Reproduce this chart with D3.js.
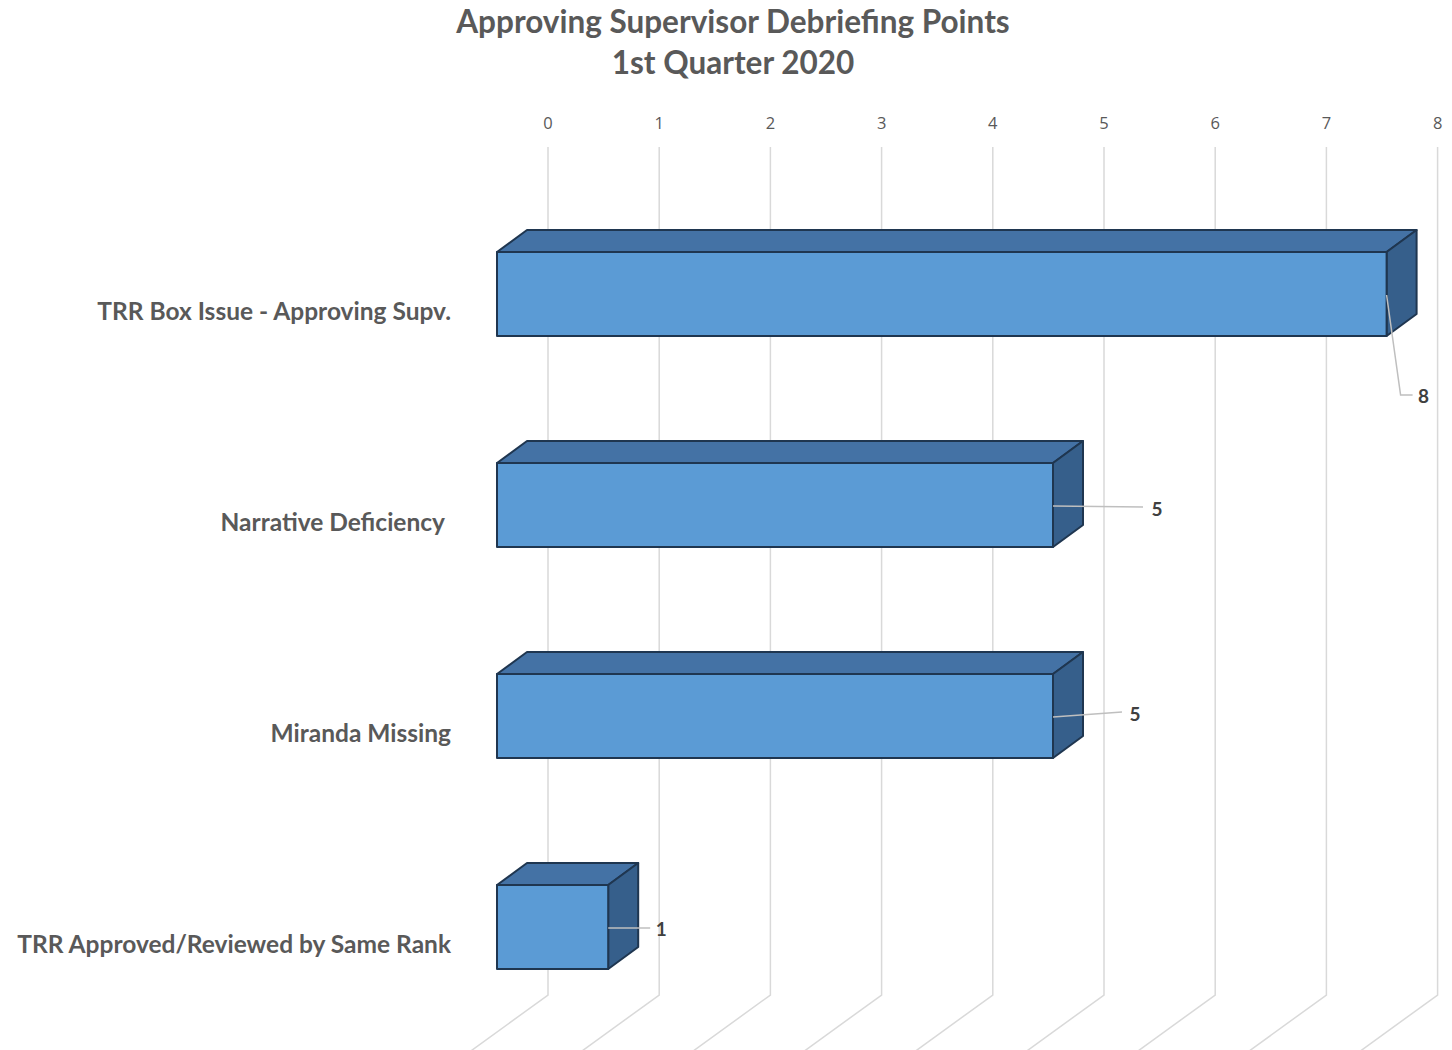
<!DOCTYPE html>
<html><head><meta charset="utf-8">
<script src="https://cdn.jsdelivr.net/npm/d3@7"></script>
<style>html,body{margin:0;padding:0;background:#fff;}svg{display:block;}</style>
</head><body>
<svg id="chart" width="1452" height="1050"></svg>
<script>
const categories = ["TRR Box Issue - Approving Supv.", "Narrative Deficiency", "Miranda Missing", "TRR Approved/Reviewed by Same Rank"];
const values = [8, 5, 5, 1];
const tickValues = [0, 1, 2, 3, 4, 5, 6, 7, 8];
const titleLines = ["Approving Supervisor Debriefing Points", "1st Quarter 2020"];

const svg = d3.select("#chart");
const W = 1452, H = 1050;
svg.append("rect").attr("width", W).attr("height", H).attr("fill", "#fff");

const x = d3.scaleLinear().domain([0, 8]).range([497, 1386.6]);
const y = d3.scaleBand().domain(categories).range([188.5, 1032.5]).paddingInner(0.602).paddingOuter(0.301);

// 3D offsets
const barD = {dx: 30, dy: -22};
const wallD = {dx: 51, dy: -37};
const gridTop = 147, wallBottom = 995;

// Title
const title = svg.append("g").attr("font-family", "Lato, 'Open Sans', sans-serif").attr("font-weight", "bold").attr("fill", "#595959").attr("text-anchor", "middle");
titleLines.forEach((t, i) => {
  title.append("text").attr("x", 733).attr("y", 33 + i * 41).attr("font-size", 31.5).text(t);
});

// Gridlines (back wall vertical + floor diagonal)
const grid = svg.append("g").attr("fill", "none").attr("stroke", "#d9d9d9").attr("stroke-width", 1.5);
tickValues.forEach(v => {
  const xb = x(v) + wallD.dx;
  const ext = 1.55; // extend beyond front plane
  grid.append("path").attr("d", d3.line()([[xb, gridTop], [xb, wallBottom], [xb - wallD.dx * ext, wallBottom - wallD.dy * ext]]));
});

// Tick labels along top (back plane)
svg.append("g").attr("font-family", "'Open Sans', sans-serif").attr("font-size", 16.5).attr("fill", "#595959").attr("text-anchor", "middle")
  .selectAll("text").data(tickValues).join("text")
  .attr("x", d => x(d) + wallD.dx).attr("y", 129).text(d => d);

// Category labels
svg.append("g").attr("font-family", "Lato, 'Open Sans', sans-serif").attr("font-weight", "bold").attr("font-size", 24.5).attr("fill", "#595959").attr("text-anchor", "end")
  .selectAll("text").data(categories).join("text")
  .attr("x", (d, i) => i === 1 ? 445 : 451).attr("y", d => y(d) + y.bandwidth() / 2 + 17.5).attr("dy", "0.35em").text(d => d);

// Bars
const bars = svg.append("g").attr("stroke", "#1f3650").attr("stroke-width", 2).attr("stroke-linejoin", "round");
categories.forEach((c, i) => {
  const x0 = x(0), x1 = x(values[i]);
  const y0 = y(c), y1 = y(c) + y.bandwidth();
  const g = bars.append("g");
  g.append("path").attr("fill", "#4472a5").attr("d", d3.line()([[x0, y0], [x0 + barD.dx, y0 + barD.dy], [x1 + barD.dx, y0 + barD.dy], [x1, y0]]) + "Z");
  g.append("path").attr("fill", "#365f8b").attr("d", d3.line()([[x1, y0], [x1 + barD.dx, y0 + barD.dy], [x1 + barD.dx, y1 + barD.dy], [x1, y1]]) + "Z");
  g.append("rect").attr("fill", "#5b9bd5").attr("x", x0).attr("y", y0).attr("width", x1 - x0).attr("height", y1 - y0);
});

// Data labels with leader lines
const labelLayout = [
  {pts: [[0, 1], [14, 101], [26, 101]], lx: 37, ly: 102},
  {pts: [[0, 1], [90, 2]], lx: 104, ly: 4},
  {pts: [[0, 1], [69, -4]], lx: 82, ly: -2},
  {pts: [[0, 1], [42, 1]], lx: 53, ly: 2}
];
const lbl = svg.append("g");
categories.forEach((c, i) => {
  const ax = x(values[i]), ay = y(c) + y.bandwidth() / 2;
  const L = labelLayout[i];
  lbl.append("path").attr("fill", "none").attr("stroke", "#bfbfbf").attr("stroke-width", 1.5)
    .attr("d", d3.line()(L.pts.map(p => [ax + p[0], ay + p[1]])));
  lbl.append("text").attr("x", ax + L.lx).attr("y", ay + L.ly).attr("dy", "0.35em")
    .attr("text-anchor", "middle").attr("font-family", "Lato, 'Open Sans', sans-serif").attr("font-weight", "bold")
    .attr("font-size", 19).attr("fill", "#404040").text(values[i]);
});
</script>
</body></html>
